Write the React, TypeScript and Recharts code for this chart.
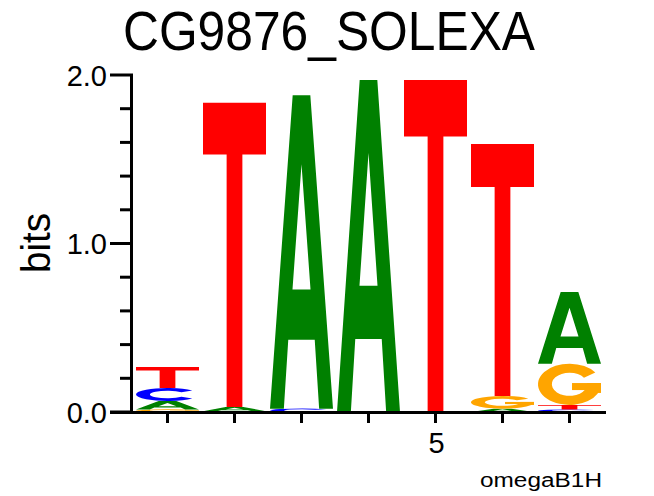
import { BarChart, Bar, XAxis, YAxis } from 'recharts'

const POSITIONS = [1, 2, 3, 4, 5, 6, 7]
const X_LABELS = ['', '', '', '', '5', '', '']
const Y_TICKS = [0, 0.2, 0.4, 0.6, 0.8, 1.0, 1.2, 1.4, 1.6, 1.8, 2.0]

// information content (bits) of each base, per position
const A_BITS = [0.05, 0.025, 1.86, 1.97, 0, 0.02, 0.425]
const C_BITS = [0.078, 0, 0.02, 0, 0, 0, 0.015]
const G_BITS = [0.015, 0.005, 0, 0, 0, 0.075, 0.245]
const T_BITS = [0.124, 1.805, 0, 0, 1.97, 1.495, 0.027]

const BASES = ['A', 'C', 'G', 'T']
const BITS: Record<string, number[]> = { A: A_BITS, C: C_BITS, G: G_BITS, T: T_BITS }
const COLOURS: Record<string, string> = { A: '#008000', C: '#0000ff', G: '#ffa500', T: '#ff0000' }
const FONT = '"Liberation Sans", Arial, Helvetica, sans-serif'

// smallest letter at the bottom of each stack
const data = POSITIONS.map((pos, i) => {
  const row: any = { pos }
  const sorted = BASES.map(b => ({ b, v: BITS[b][i] })).sort((p, q) => p.v - q.v)
  sorted.forEach((s, r) => {
    row[`r${r}`] = s.v
    row[`l${r}`] = s.b
  })
  return row
})

// glyphs drawn in a 100x100 box, stretched to the bar
const LetterPath = ({ letter }: { letter: string }) => {
  if (letter === 'A') return (
    <path fillRule="evenodd" d="M0,100 L36,0 L64,0 L100,100 L78,100 L71,78 L29,78 L22,100 Z M35.7,62 L64.3,62 L50,22 Z" />
  )
  if (letter === 'C') return (
    <path d="M89.4,19.2 A50,50 0 1 0 89.4,80.8 L72.06,67.24 A28,28 0 1 1 72.06,32.76 Z" />
  )
  if (letter === 'G') return (
    <g>
      <path d="M90.96,21.32 A50,50 0 1 0 100,50 L78,50 A28,28 0 1 1 72.94,33.94 Z" />
      <rect x={54} y={47} width={46} height={17} />
      <rect x={78} y={47} width={22} height={24} />
    </g>
  )
  return <path d="M0,0 H100 V17 H62.5 V100 H37.5 V17 H0 Z" />
}

const Glyph = (props: any) => {
  const { x, y, width, height, payload, rank } = props
  const letter = payload?.[`l${rank}`]
  if (!letter || !height || height <= 0) return null
  return (
    <g transform={`translate(${x},${y}) scale(${width / 100},${height / 100})`} fill={COLOURS[letter]}>
      <LetterPath letter={letter} />
    </g>
  )
}

const YTick = ({ x, y, payload }: any) => {
  const v = payload.value
  const major = Math.abs(v - Math.round(v)) < 1e-6
  return (
    <g>
      <line x1={x - (major ? 24 : 14)} x2={x - 1} y1={y} y2={y} stroke="#000" strokeWidth={3} />
      {major && (
        <text x={x - 27} y={y + 10.5} textAnchor="end" fontSize={29} fontFamily={FONT} fill="#000">
          {v.toFixed(1)}
        </text>
      )}
      {v === 0 && <line x1={x - 24} x2={606} y1={y + 0.5} y2={y + 0.5} stroke="#000" strokeWidth={3} />}
    </g>
  )
}

const XTick = ({ x, y, index }: any) => (
  <g>
    <line x1={x} x2={x} y1={y} y2={y + 11} stroke="#000" strokeWidth={3} />
    {X_LABELS[index] && (
      <text x={x + 1} y={y + 41} textAnchor="middle" fontSize={29} fontFamily={FONT} fill="#000">
        {X_LABELS[index]}
      </text>
    )}
  </g>
)

export default function App() {
  return (
    <div style={{ position: 'absolute', left: 0, top: 0, width: 654, height: 496, background: '#fff' }}>
      <BarChart
        width={654}
        height={496}
        data={data}
        margin={{ top: 75, right: 51, bottom: 44, left: 0 }}
        barCategoryGap={2}
      >
        <XAxis
          dataKey="pos"
          interval={0}
          tickSize={0}
          tickMargin={0}
          axisLine={false}
          height={40}
          tick={<XTick />}
        />
        <YAxis
          type="number"
          domain={[0, 2]}
          ticks={Y_TICKS}
          interval={0}
          width={134}
          tickSize={0}
          tickMargin={0}
          axisLine={{ stroke: '#000', strokeWidth: 3, transform: 'translate(-2.5,0)' }}
          tick={<YTick />}
        />
        {[0, 1, 2, 3].map(r => (
          <Bar
            key={r}
            dataKey={`r${r}`}
            stackId="logo"
            isAnimationActive={false}
            shape={(p: any) => <Glyph {...p} rank={r} />}
          />
        ))}
      </BarChart>
      <svg width={654} height={496} style={{ position: 'absolute', left: 0, top: 0, pointerEvents: 'none' }}>
        <text x={123} y={50} fontSize={55} fontFamily={FONT} textLength={412} lengthAdjust="spacingAndGlyphs" fill="#000">
          CG9876_SOLEXA
        </text>
        <text
          x={50}
          y={243}
          transform="rotate(-90 50 243)"
          textAnchor="middle"
          fontSize={40}
          fontFamily={FONT}
          textLength={60}
          lengthAdjust="spacingAndGlyphs"
          fill="#000"
        >
          bits
        </text>
        <text x={480} y={487} fontSize={20} fontFamily={FONT} textLength={122} lengthAdjust="spacingAndGlyphs" fill="#000">
          omegaB1H
        </text>
      </svg>
    </div>
  )
}
